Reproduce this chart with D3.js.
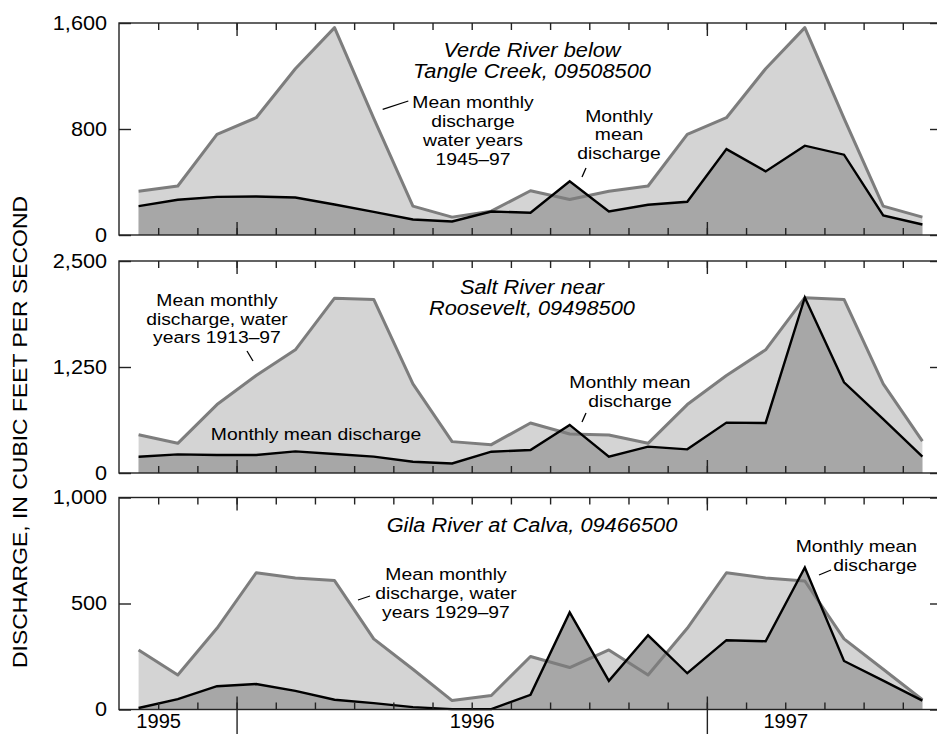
<!DOCTYPE html>
<html>
<head>
<meta charset="utf-8">
<script src="https://cdn.jsdelivr.net/npm/d3@7"></script>
<style>
  body { margin: 0; background: #fff; }
  svg { display: block; font-family: "Liberation Sans", Arial, sans-serif; }
</style>
</head>
<body>
<svg id="chart" width="937" height="734"></svg>
<script>
// months shown: Oct 1995 .. Jun 1997 (one point per month, at mid-month)
const months = ["1995-10","1995-11","1995-12","1996-01","1996-02","1996-03","1996-04",
  "1996-05","1996-06","1996-07","1996-08","1996-09","1996-10","1996-11","1996-12",
  "1997-01","1997-02","1997-03","1997-04","1997-05","1997-06"];

// long-term mean monthly discharge, ft3/s
const verdeMean = [330, 370, 760, 885, 1255, 1565, 880, 218, 135, 180, 334, 268,
  330, 370, 760, 885, 1255, 1565, 880, 218, 135];
const saltMean = [452, 350, 807, 1149, 1453, 2062, 2047, 1051, 370, 334, 590, 460,
  449, 350, 807, 1149, 1453, 2068, 2047, 1051, 375];
const gilaMean = [281, 163, 383, 645, 620, 608, 333, 190, 42, 66, 250, 198,
  281, 163, 383, 645, 620, 606, 333, 190, 46];

// monthly mean discharge for the period, ft3/s
const verdeMonthly = [218, 266, 288, 291, 283, 230, 175, 117, 102, 177, 168, 406,
  177, 228, 251, 648, 480, 674, 606, 147, 79];
const saltMonthly = [192, 220, 213, 213, 255, 224, 193, 133, 113, 251, 271, 567,
  192, 311, 279, 594, 590, 2070, 1070, 634, 192];
const gilaMonthly = [7, 49, 110, 120, 88, 46, 30, 11, 2, 2, 69, 458,
  135, 350, 171, 327, 322, 670, 229, 136, 42];

const yMax = [1600, 2500, 1000];
const yTicks = [[0, 800, 1600], [0, 1250, 2500], [0, 500, 1000]];
const yearLabels = ["1995", "1996", "1997"];
const yearLabelAt = [1, 9, 17];      // month boundary under which each year label sits
const yearStarts = [3, 15];          // Jan 1996, Jan 1997

const panels = [
  {mean: verdeMean, monthly: verdeMonthly, max: yMax[0], ticks: yTicks[0], top: 23,
   title: ["Verde River below", "Tangle Creek, 09508500"], titleY: 56.7,
   notes: [
     {lines: ["Mean monthly", "discharge", "water years", "1945\u201397"], x: 473, y: 108.3, dy: 18.8, anchor: "middle", leader: [382.7, 109.3, 408.3, 101]},
     {lines: ["Monthly", "mean", "discharge"], x: 619, y: 121.7, dy: 18.6, anchor: "middle", leader: [582, 177, 586, 168]}
   ]},
  {mean: saltMean, monthly: saltMonthly, max: yMax[1], ticks: yTicks[1], top: 261,
   title: ["Salt River near", "Roosevelt, 09498500"], titleY: 294,
   notes: [
     {lines: ["Mean monthly", "discharge, water", "years 1913\u201397"], x: 217, y: 306, dy: 18.6, anchor: "middle", leader: [247, 351, 253, 361]},
     {lines: ["Monthly mean discharge"], x: 316, y: 440, dy: 18.6, anchor: "middle"},
     {lines: ["Monthly mean", "discharge"], x: 630, y: 388.3, dy: 18.6, anchor: "middle", leader: [582, 422, 586, 413]}
   ]},
  {mean: gilaMean, monthly: gilaMonthly, max: yMax[2], ticks: yTicks[2], top: 497.5,
   title: ["Gila River at Calva, 09466500"], titleY: 531.7,
   notes: [
     {lines: ["Mean monthly", "discharge, water", "years 1929\u201397"], x: 446, y: 580, dy: 19.2, anchor: "middle", leader: [358, 600, 370, 596]},
     {lines: ["Monthly mean", "discharge"], x: 917, y: 551.7, dy: 19, anchor: "end", leader: [819, 575, 831, 570]}
   ]}
];

const svg = d3.select("#chart");
const panelH = 212;
const left = 119, right = 942;

const x = d3.scaleLinear().domain([0, months.length]).range([left, right]);
const monthBounds = d3.range(1, months.length);

// the lettering in the original is a little wider than Arial
function widen(sel, f) {
  sel.each(function () {
    const len = this.getComputedTextLength();
    d3.select(this).attr("textLength", len * f).attr("lengthAdjust", "spacingAndGlyphs");
  });
}

function addLines(g, lines, x0, y0, dy, anchor, size, italic, f) {
  lines.forEach((t, i) => {
    const el = g.append("text")
      .attr("x", x0).attr("y", y0 + i * dy)
      .attr("text-anchor", anchor)
      .attr("font-size", size)
      .attr("font-style", italic ? "italic" : "normal")
      .text(t);
    widen(el, f);
  });
}

function tickStyle(a) {
  a.select(".domain").remove();
  a.selectAll("line").attr("stroke", "#222").attr("stroke-width", 1.4);
}

panels.forEach((p, k) => {
  const y = d3.scaleLinear().domain([0, p.max]).range([p.top + panelH, p.top]);
  const g = svg.append("g");

  const area = d3.area()
    .x((d, i) => x(i + 0.5))
    .y0(y(0))
    .y1(d => y(d));
  const line = d3.line()
    .x((d, i) => x(i + 0.5))
    .y(d => y(d));

  g.append("path").attr("d", area(p.mean)).attr("fill", "#d4d4d4");
  g.append("path").attr("d", area(p.monthly)).attr("fill", "#a7a7a7");
  g.append("path").attr("d", line(p.mean)).attr("fill", "none")
    .attr("stroke", "#7d7d7d").attr("stroke-width", 3).attr("stroke-linejoin", "round");
  g.append("path").attr("d", line(p.monthly)).attr("fill", "none")
    .attr("stroke", "#000").attr("stroke-width", 2.4);

  // frame
  g.append("rect")
    .attr("x", left).attr("y", p.top)
    .attr("width", right - left).attr("height", panelH)
    .attr("fill", "none").attr("stroke", "#222").attr("stroke-width", 1.4);

  // month ticks pointing inward, longer at year starts
  const topAxis = d3.axisTop(x).tickValues(monthBounds).tickSizeInner(-7).tickSizeOuter(0).tickFormat("");
  const botAxis = d3.axisBottom(x).tickValues(monthBounds).tickSizeInner(-7).tickSizeOuter(0).tickFormat("");
  const topMajor = d3.axisTop(x).tickValues(yearStarts).tickSizeInner(-13).tickSizeOuter(0).tickFormat("");
  const botMajor = d3.axisBottom(x).tickValues(yearStarts).tickSizeInner(-13).tickSizeOuter(0).tickFormat("");
  [[topAxis, p.top], [botAxis, p.top + panelH], [topMajor, p.top], [botMajor, p.top + panelH]]
    .forEach(([ax, ty]) => {
      tickStyle(g.append("g").attr("transform", `translate(0,${ty})`).call(ax));
    });

  // value axes
  const yl = g.append("g").attr("transform", `translate(${left},0)`)
    .call(d3.axisLeft(y).tickValues(p.ticks).tickSizeInner(-12).tickSizeOuter(0)
      .tickPadding(12).tickFormat(d3.format(",")));
  const yr = g.append("g").attr("transform", `translate(${right},0)`)
    .call(d3.axisRight(y).tickValues(p.ticks).tickSizeInner(-12).tickSizeOuter(0).tickFormat(""));
  tickStyle(yl);
  tickStyle(yr);
  yl.selectAll("text").attr("font-size", 19.5).attr("font-family", "Liberation Sans, Arial").attr("fill", "#000");
  widen(yl.selectAll("text"), 1.11);

  // title and notes
  addLines(g, p.title, 532, p.titleY, 21, "middle", 19.3, true, 1.13);
  p.notes.forEach(n => {
    addLines(g, n.lines, n.x, n.y, n.dy, n.anchor, 17.4, false, 1.11);
    if (n.leader) {
      g.append("line")
        .attr("x1", n.leader[0]).attr("y1", n.leader[1])
        .attr("x2", n.leader[2]).attr("y2", n.leader[3])
        .attr("stroke", "#000").attr("stroke-width", 1.3);
    }
  });

  if (k === panels.length - 1) {
    const base = p.top + panelH;
    tickStyle(g.append("g").attr("transform", `translate(0,${base})`)
      .call(d3.axisBottom(x).tickValues(yearStarts).tickSizeInner(26).tickSizeOuter(0).tickFormat("")));

    const lab = g.append("g").attr("transform", `translate(0,${base})`)
      .call(d3.axisBottom(x).tickValues(yearLabelAt).tickSize(0).tickPadding(5)
        .tickFormat((d, i) => yearLabels[i]));
    lab.select(".domain").remove();
    lab.selectAll("text").attr("font-size", 19.5).attr("font-family", "Liberation Sans, Arial").attr("fill", "#000");
    widen(lab.selectAll("text"), 1.03);
  }
});

// shared value axis title
svg.append("text")
  .attr("transform", "translate(26.5,432) rotate(-90)")
  .attr("text-anchor", "middle")
  .attr("font-size", 21)
  .attr("textLength", 472).attr("lengthAdjust", "spacingAndGlyphs")
  .text("DISCHARGE, IN CUBIC FEET PER SECOND");
</script>
</body>
</html>
